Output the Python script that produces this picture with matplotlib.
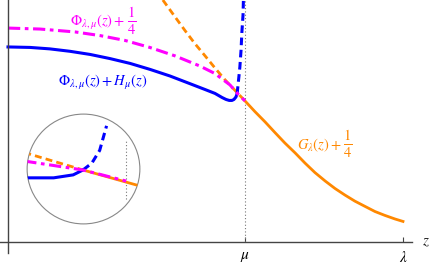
import matplotlib
matplotlib.use("Agg")
import matplotlib.pyplot as plt
from matplotlib.patches import Circle

plt.rcParams['mathtext.fontset'] = 'stix'
plt.rcParams['font.family'] = ['STIXGeneral', 'DejaVu Serif']

# ---------------- data (main panel) ----------------
mu, lam = 0.6, 1.0
tick_pos = [mu, lam]
tick_labels = [r'$\mu$', r'$\lambda$']

# G_lambda(z) + 1/4, solid part (z >= mu)
g_x = [0.600, 0.625, 0.651, 0.676, 0.701, 0.727, 0.752, 0.777, 0.803,
       0.828, 0.853, 0.878, 0.904, 0.929, 0.954, 0.980, 1.000]
g_y = [0.583, 0.539, 0.496, 0.452, 0.409, 0.368, 0.326, 0.287, 0.252,
       0.221, 0.194, 0.169, 0.147, 0.126, 0.110, 0.095, 0.085]
# G continuation (dashed, z < mu)
gd_x = [0.392, 0.423, 0.448, 0.473, 0.499, 0.524, 0.549, 0.575, 0.600]
gd_y = [1.000, 0.930, 0.874, 0.820, 0.769, 0.719, 0.671, 0.626, 0.583]
# Phi + 1/4 (dash-dot)
p_x = [0.000, 0.081, 0.170, 0.233, 0.296, 0.359, 0.423, 0.486, 0.524, 0.562, 0.582, 0.600]
p_y = [0.884, 0.880, 0.868, 0.853, 0.833, 0.804, 0.769, 0.727, 0.696, 0.649, 0.612, 0.583]
# Phi + H (solid blue)
b_x = [0.000, 0.056, 0.106, 0.157, 0.208, 0.258, 0.309, 0.360, 0.410, 0.461,
       0.499, 0.524, 0.542, 0.552, 0.560, 0.567, 0.572, 0.577, 0.580]
b_y = [0.806, 0.804, 0.798, 0.788, 0.775, 0.758, 0.738, 0.713, 0.686, 0.654,
       0.630, 0.614, 0.597, 0.589, 0.585, 0.585, 0.589, 0.599, 0.612]
# Phi + H continuation (dashed blue)
bd_x = [0.580, 0.585, 0.587, 0.590, 0.592, 0.595, 0.596]
bd_y = [0.612, 0.690, 0.723, 0.793, 0.864, 0.938, 1.000]

# ---------------- data (zoomed inset, local units) ----------------
ig_x = [-0.009, 0.983]
ig_y = [-0.018, -0.304]
igd_x = [-1.05, -0.009]
igd_y = [0.300, -0.018]
ip_x = [-1.05, -0.009, 0.757]
ip_y = [0.145, -0.018, -0.220]
ib_x = [-1.05, -0.530, -0.183, -0.009]
ib_y = [-0.161, -0.161, -0.107, -0.018]
ibd_x = [-0.009, 0.148, 0.287, 0.409]
ibd_y = [-0.018, 0.107, 0.339, 0.786]
imu = 0.757

BLUE = '#0000ff'
MAG = '#ff00ff'
ORA = '#ff8800'
AXC = '#444444'

fig = plt.figure(figsize=(4.34, 2.67), dpi=100)
ax = fig.add_axes([0, 0, 1, 1])
ax.set_xlim(-8 / 395, 426 / 395)
ax.set_ylim(-25 / 242, 1.0)
ax.patch.set_visible(False)

for s in ['top', 'right']:
    ax.spines[s].set_visible(False)
ax.spines['left'].set_position(('data', 0))
ax.spines['bottom'].set_position(('data', 0))
ax.spines['left'].set_bounds(-0.045, 1.0)
ax.spines['bottom'].set_bounds(-8 / 395, 1.023)
for s in ['left', 'bottom']:
    ax.spines[s].set_color(AXC)
    ax.spines[s].set_linewidth(1.0)
ax.set_yticks([])
ax.set_xticks(tick_pos)
ax.set_xticklabels(tick_labels, fontsize=11)
ax.tick_params(axis='x', direction='in', length=3.5, width=0.8, color=AXC, pad=6)

ax.plot([mu, mu], [0, 1.0], color='#777777', lw=0.8, ls=(0, (1, 2)))

ax.plot(gd_x, gd_y, color=ORA, lw=2.0, ls=(0, (2.5, 1.5)), solid_capstyle='butt')
ax.plot(g_x, g_y, color=ORA, lw=2.0)
ax.plot(b_x, b_y, color=BLUE, lw=2.2)
ax.plot(bd_x, bd_y, color=BLUE, lw=2.2, ls=(0, (2.5, 1.5)))
ax.plot(p_x, p_y, color=MAG, lw=2.2, ls=(0, (4, 1.5, 1.2, 1.5)))

# labels
ax.text(0.157, 0.893, r'$\Phi_{\lambda,\mu}(z)+$', color=MAG, fontsize=10.5,
        ha='left', va='baseline')
ax.text(0.313, 0.913, r'$\frac{1}{4}$', color=MAG, fontsize=15,
        ha='center', va='center')
ax.text(0.127, 0.645, r'$\Phi_{\lambda,\mu}(z)+H_{\mu}(z)$', color=BLUE, fontsize=10.5,
        ha='left', va='baseline')
ax.text(0.732, 0.384, r'$G_{\lambda}(z)+$', color=ORA, fontsize=10.5,
        ha='left', va='baseline')
ax.text(0.860, 0.405, r'$\frac{1}{4}$', color=ORA, fontsize=15,
        ha='center', va='center')
ax.text(1.057, 0.0, r'$z$', fontsize=11, ha='center', va='center', color='#222222')

# inset
ins = fig.add_axes([26 / 434, (267 - 225) / 267, 115 / 434, 112 / 267])
ins.set_xlim(-1.02, 1.02)
ins.set_ylim(-1.02, 1.02)
ins.axis('off')
circ = Circle((0, 0), 1.0, transform=ins.transData, fill=False, ec='#888888', lw=0.8)
ins.add_patch(circ)
clip = Circle((0, 0), 1.0, transform=ins.transData)
lines = []
lines += ins.plot([imu, imu], [-0.554, 0.554], color='#777777', lw=0.8, ls=(0, (1, 2)))
lines += ins.plot(igd_x, igd_y, color=ORA, lw=2.0, ls=(0, (2.5, 1.5)))
lines += ins.plot(ig_x, ig_y, color=ORA, lw=2.0)
lines += ins.plot(ib_x, ib_y, color=BLUE, lw=2.2)
lines += ins.plot(ibd_x, ibd_y, color=BLUE, lw=2.2, ls=(0, (2.5, 1.5)))
lines += ins.plot(ip_x, ip_y, color=MAG, lw=2.2, ls=(0, (4, 1.5, 1.2, 1.5)))
for ln in lines:
    ln.set_clip_path(clip)

fig.savefig('out.png', dpi=100)
